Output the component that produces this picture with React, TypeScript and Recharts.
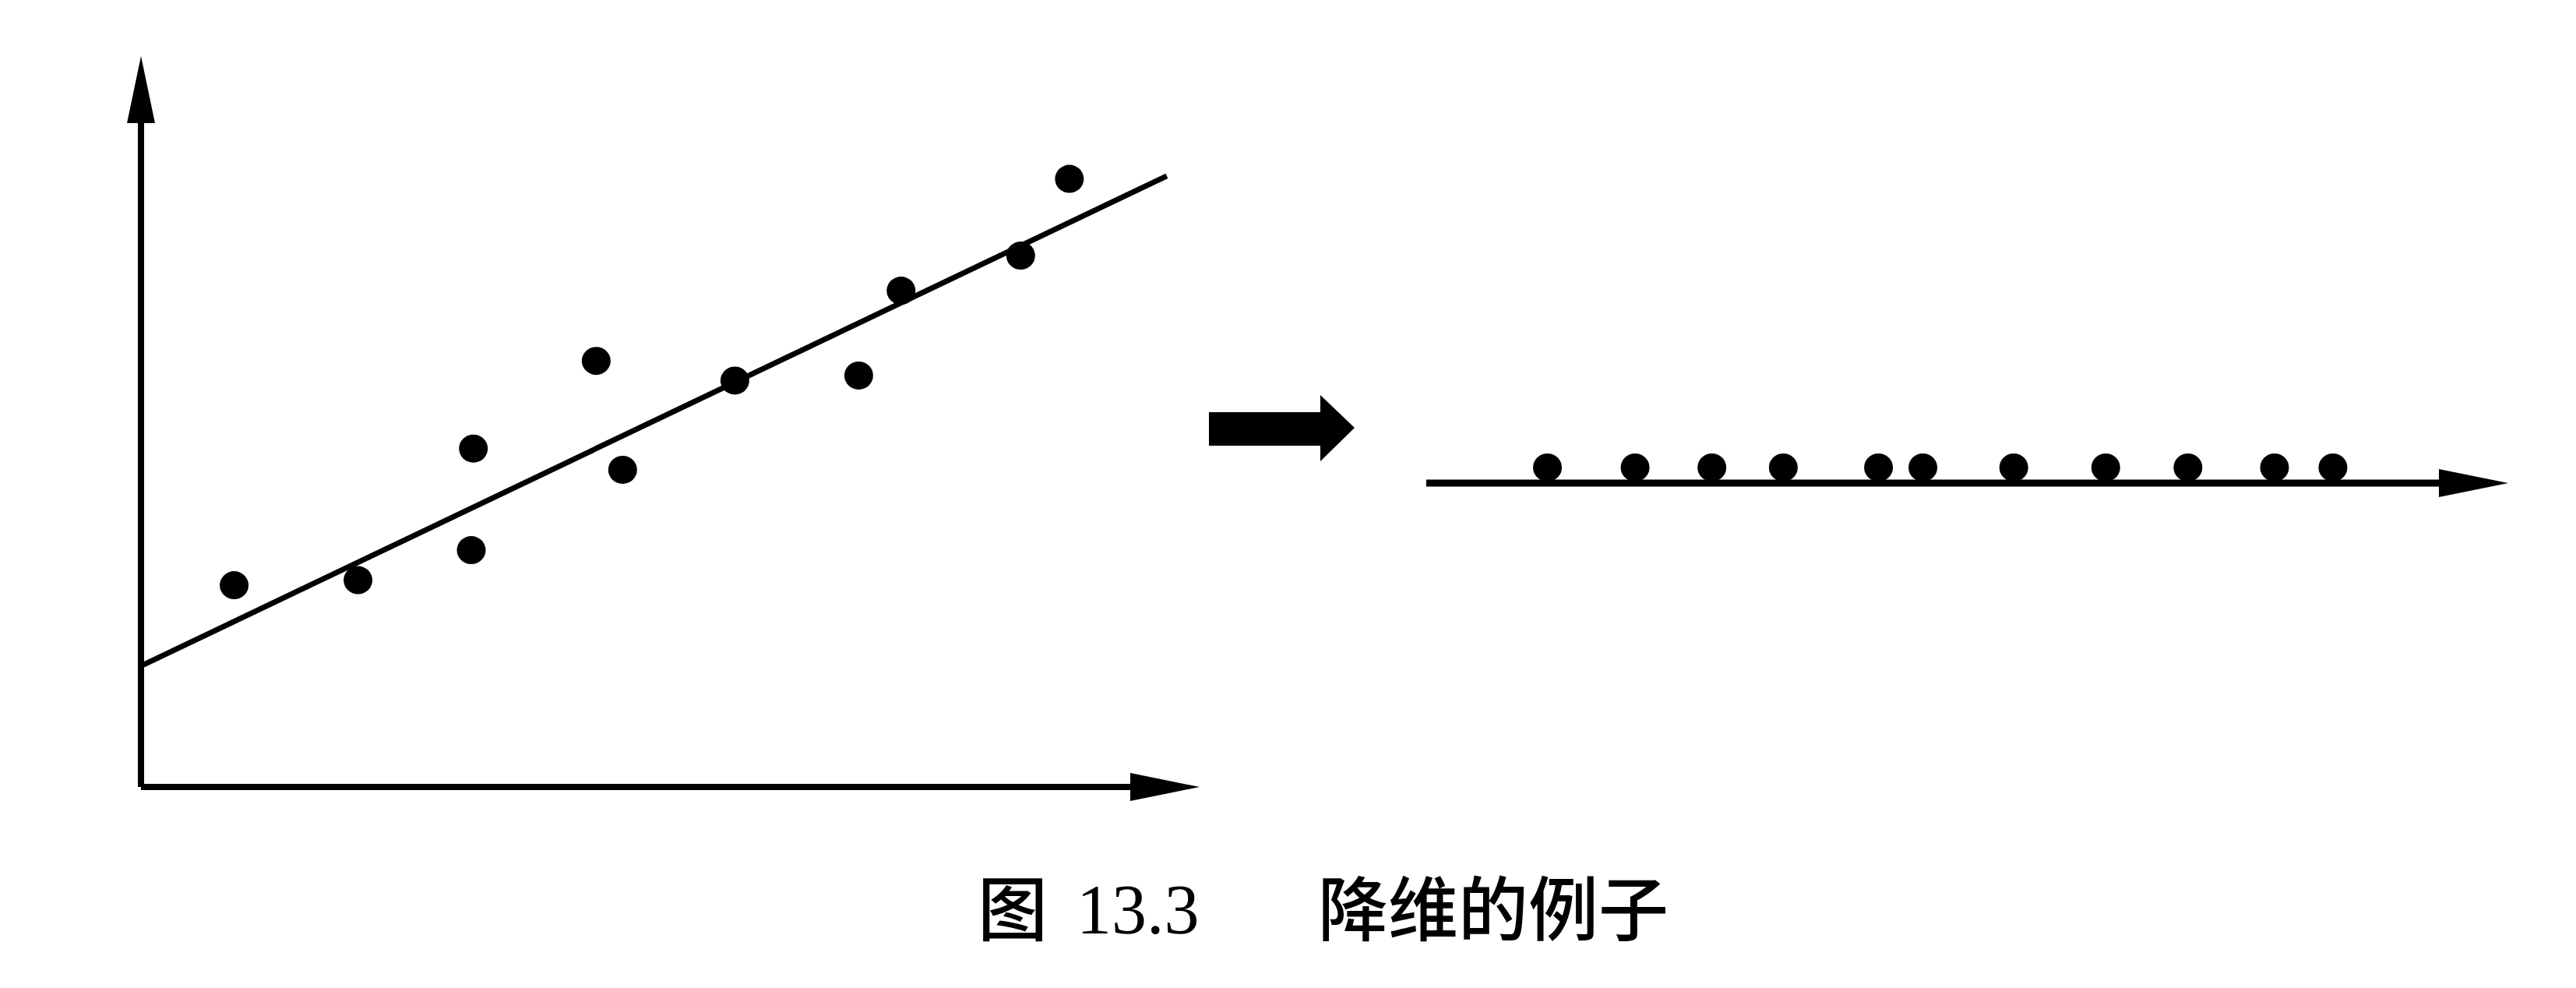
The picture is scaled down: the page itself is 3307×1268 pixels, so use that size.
import React from 'react'
import { ComposedChart, ScatterChart, Scatter, Line, XAxis, YAxis, ReferenceDot, ReferenceLine } from 'recharts'

// 原始二维数据 (左图)
const ORIG_X = [8.8, 20.5, 31.4, 31.2, 43.0, 45.5, 56.1, 67.8, 71.8, 83.1, 87.7]
const ORIG_Y = [27.6, 28.3, 46.3, 32.4, 58.3, 43.4, 55.6, 56.3, 67.9, 72.7, 83.2]
// 拟合直线两端
const FIT_X = [0.2, 96.9]
const FIT_Y = [16.7, 83.6]
// 投影到一维后的数据 (右图)
const PROJ_X = [11.2, 19.3, 26.4, 33.0, 41.8, 45.9, 54.3, 62.8, 70.4, 78.4, 83.8]
const PROJ_Y = [0.2, 0.2, 0.2, 0.2, 0.2, 0.2, 0.2, 0.2, 0.2, 0.2, 0.2]

const CAPTION_NO = '13.3'
const CAPTION_TEXT = '降维的例子'

const origData = ORIG_X.map((x, i) => ({ x, y: ORIG_Y[i] }))
const fitData = FIT_X.map((x, i) => ({ x, y: FIT_Y[i] }))
const projData = PROJ_X.map((x, i) => ({ x, y: PROJ_Y[i] }))

const Blob = ({ cx, cy }: any) => <ellipse cx={cx} cy={cy} rx={18.5} ry={18} fill="#000" />
const HeadRight = ({ cx, cy }: any) => (
  <polygon points={`${cx - 89},${cy - 18} ${cx},${cy} ${cx - 89},${cy + 18}`} fill="#000" />
)
const HeadUp = ({ cx, cy }: any) => (
  <polygon points={`${cx - 18},${cy + 86} ${cx},${cy} ${cx + 18},${cy + 86}`} fill="#000" />
)

export default function App() {
  return (
    <div style={{ position: 'absolute', left: 0, top: 0, width: 3307, height: 1268, background: '#fff', overflow: 'hidden' }}>
      {/* 左: 二维数据 + 拟合直线 */}
      <div style={{ position: 'absolute', left: 0, top: 0 }}>
        <ComposedChart width={1600} height={1100} margin={{ top: 72, right: 60, bottom: 90, left: 181 }}>
          <XAxis type="number" dataKey="x" domain={[0, 100]} hide allowDataOverflow />
          <YAxis type="number" dataKey="y" domain={[0, 100]} hide allowDataOverflow />
          <ReferenceLine segment={[{ x: 0, y: 0 }, { x: 96, y: 0 }]} stroke="#000" strokeWidth={8} />
          <ReferenceLine segment={[{ x: 0, y: 0 }, { x: 0, y: 94 }]} stroke="#000" strokeWidth={8} />
          <Line data={fitData} dataKey="y" stroke="#000" strokeWidth={7} dot={false} activeDot={false} isAnimationActive={false} />
          <Scatter data={origData} dataKey="y" shape={Blob} isAnimationActive={false} />
          <ReferenceDot x={100} y={0} r={0} shape={HeadRight} />
          <ReferenceDot x={0} y={100} r={0} shape={HeadUp} />
        </ComposedChart>
      </div>

      {/* 中间粗箭头 */}
      <svg style={{ position: 'absolute', left: 1540, top: 500 }} width={210} height={100}>
        <rect x={12} y={29} width={143} height={43} fill="#000" />
        <polygon points="155,7 199,49 155,92" fill="#000" />
      </svg>

      {/* 右: 一维投影 */}
      <div style={{ position: 'absolute', left: 1700, top: 400 }}>
        <ScatterChart width={1600} height={300} margin={{ top: 120, right: 80, bottom: 80, left: 131 }}>
          <XAxis type="number" dataKey="x" domain={[0, 100]} hide />
          <YAxis type="number" dataKey="y" domain={[0, 1]} hide />
          <ReferenceLine segment={[{ x: 0, y: 0 }, { x: 96, y: 0 }]} stroke="#000" strokeWidth={9} />
          <Scatter data={projData} shape={Blob} isAnimationActive={false} />
          <ReferenceDot x={100} y={0} r={0} shape={HeadRight} />
        </ScatterChart>
      </div>

      {/* 图题 */}
      <div style={{ position: 'absolute', left: 1255, top: 1116, fontFamily: '"Noto Sans CJK SC"', fontWeight: 500, fontSize: 90, lineHeight: '90px', color: '#000' }}>图</div>
      <div style={{ position: 'absolute', left: 1382, top: 1123, fontFamily: '"Liberation Serif"', fontSize: 90, lineHeight: '90px', color: '#000' }}>{CAPTION_NO}</div>
      <div style={{ position: 'absolute', left: 1692, top: 1116, fontFamily: '"Noto Sans CJK SC"', fontWeight: 500, fontSize: 90, lineHeight: '90px', color: '#000' }}>{CAPTION_TEXT}</div>
    </div>
  )
}
